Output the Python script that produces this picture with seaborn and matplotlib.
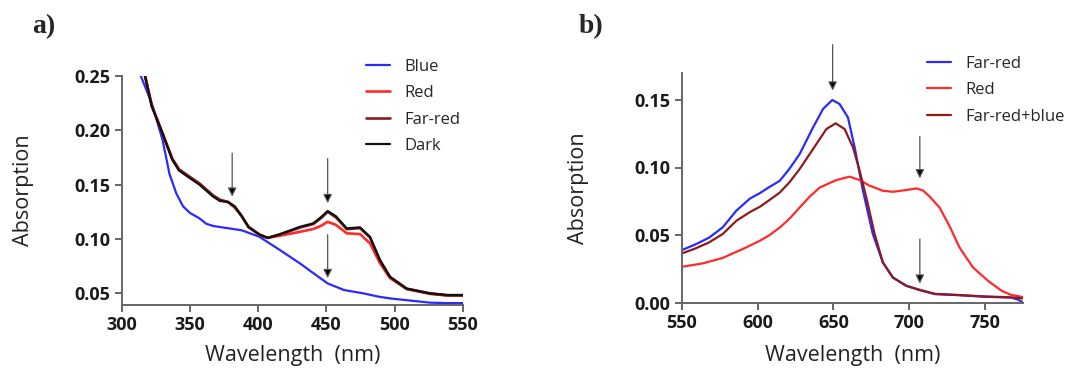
import numpy as np
import pandas as pd
import seaborn as sns
import matplotlib.pyplot as plt

# %% Data

# panel a) 300-550 nm
wl_a_blue = [314, 322, 330, 335, 340, 345, 350, 357, 362, 367, 372, 388, 401,
             416, 430.7, 440, 451, 463, 477, 488, 496.7, 514, 526, 538, 550]
abs_a_blue = [0.250, 0.225, 0.191, 0.160, 0.142, 0.130, 0.124, 0.119, 0.114,
              0.112, 0.111, 0.108, 0.102, 0.0898, 0.0775, 0.069, 0.0591,
              0.053, 0.050, 0.047, 0.0453, 0.043, 0.0414, 0.041, 0.041]

wl_a = [317, 322, 330, 337, 342, 350, 357, 367, 372, 378, 383, 388, 393, 401,
        407, 416, 430.7, 440.5, 446, 451, 457, 465, 474.7, 482, 489.4, 496.7,
        508.9, 526, 539, 550]
abs_a_dark = [0.250, 0.222, 0.197, 0.173, 0.163, 0.156, 0.150, 0.139, 0.135,
              0.134, 0.130, 0.121, 0.111, 0.104, 0.101, 0.1045, 0.1112,
              0.1144, 0.120, 0.1257, 0.121, 0.1098, 0.1107, 0.102, 0.0806,
              0.0652, 0.0545, 0.050, 0.0485, 0.0485]
abs_a_farred = [0.251, 0.223, 0.197, 0.174, 0.164, 0.157, 0.151, 0.140, 0.136,
                0.134, 0.129, 0.121, 0.111, 0.104, 0.101, 0.104, 0.1105,
                0.1138, 0.119, 0.125, 0.120, 0.109, 0.110, 0.1015, 0.080,
                0.065, 0.054, 0.0495, 0.048, 0.048]
abs_a_red = [0.251, 0.223, 0.197, 0.174, 0.164, 0.157, 0.151, 0.140, 0.136,
             0.134, 0.129, 0.121, 0.111, 0.104, 0.101, 0.103, 0.1066, 0.1092,
             0.112, 0.1158, 0.113, 0.1052, 0.1045, 0.096, 0.0776, 0.064,
             0.054, 0.050, 0.048, 0.048]

# panel b) 550-775 nm
wl_b_farred = [550, 559, 568, 577, 586, 595, 601.5, 607, 614.7, 621, 627.8,
               636.6, 643.2, 649.3, 654.1, 659.6, 664, 669.5, 676, 682.6,
               689.2, 698, 706.8, 717, 733, 750, 767, 772, 775]
abs_b_farred = [0.0388, 0.043, 0.048, 0.0556, 0.068, 0.077, 0.081, 0.085,
                0.0902, 0.099, 0.110, 0.1297, 0.1434, 0.150, 0.147, 0.137,
                0.115, 0.0828, 0.0507, 0.0297, 0.0185, 0.0124, 0.0092, 0.0062,
                0.0054, 0.0042, 0.0037, 0.002, 0.0]
wl_b_farred_blue = [550, 559, 568, 577, 586, 595, 601.5, 608, 614.7, 621,
                    627.8, 638.8, 645.4, 651.5, 657.4, 662.9, 667.3, 671.7,
                    677.2, 682.6, 689.2, 698, 706.8, 717, 733, 750, 767, 775]
abs_b_farred_blue = [0.0363, 0.040, 0.0445, 0.0507, 0.0605, 0.067, 0.0709,
                     0.076, 0.0815, 0.089, 0.0989, 0.1174, 0.1285, 0.1327,
                     0.1285, 0.115, 0.0976, 0.0778, 0.0507, 0.0297, 0.0185,
                     0.0124, 0.0094, 0.0064, 0.0055, 0.0045, 0.0038, 0.003]
wl_b_red = [550, 564, 577, 591, 601.5, 608, 614.7, 621, 627.8, 634, 641, 652,
            660.7, 667.3, 673.9, 682.6, 689.2, 698, 704.6, 709, 713, 720, 727,
            733, 742, 752, 761, 767, 775]
abs_b_red = [0.0264, 0.029, 0.033, 0.040, 0.0457, 0.050, 0.0556, 0.062,
             0.0704, 0.078, 0.0852, 0.0907, 0.0932, 0.0907, 0.0865, 0.0828,
             0.082, 0.0833, 0.0845, 0.083, 0.079, 0.0704, 0.0556, 0.041,
             0.026, 0.016, 0.0086, 0.0057, 0.004]

# arrows: (x, y_start, y_tip)
arrows_a = [(381, 0.179, 0.139), (451, 0.174, 0.133), (451, 0.104, 0.064)]
arrows_b = [(649.5, 0.191, 0.157), (707, 0.123, 0.092), (707, 0.047, 0.014)]

# %% Style

sns.set_style("ticks")
plt.rcParams['font.family'] = ['Open Sans', 'DejaVu Sans']

c_blue = "#2a2aff"
c_red = "#ff2a2a"
c_darkred = "#8e1b1b"
c_black = "#111111"

W, H = 1070, 368
fig = plt.figure(figsize=(10.7, 3.68), dpi=100)
ax_a = fig.add_axes([121.7 / W, (H - 304.5) / H, 341 / W, 228.5 / H])
ax_b = fig.add_axes([681.7 / W, (H - 302.5) / H, 341.3 / W, 229.5 / H])


def style_axis(ax):
    sns.despine(ax=ax)
    for s in ["left", "bottom"]:
        ax.spines[s].set_color("#666666")
        ax.spines[s].set_linewidth(1.4)
    ax.tick_params(axis="both", direction="out", length=5, width=1.4,
                   color="#666666", labelsize=13, labelcolor="#1a1a1a")
    for lab in ax.get_xticklabels() + ax.get_yticklabels():
        lab.set_fontweight("bold")
    ax.set_ylabel("Absorption", fontsize=15.5, color="#222222")
    ax.set_xlabel("Wavelength  (nm)", fontsize=15.5, color="#222222")


def draw_arrows(ax, arrows):
    for x, y0, y1 in arrows:
        ax.annotate("", xy=(x, y1), xytext=(x, y0),
                    arrowprops=dict(arrowstyle="-|>", ec="#555555",
                                    fc="black", lw=0.9, mutation_scale=13,
                                    shrinkA=0, shrinkB=0))


def add_legend(ax, x, y):
    ax.legend(loc="upper left", bbox_to_anchor=(x / W, 1 - y / H),
              bbox_transform=fig.transFigure, frameon=False, fontsize=12,
              borderpad=0, borderaxespad=0, handlelength=1.45,
              handletextpad=0.88, labelspacing=0.62)


# %% Panel a

sns.lineplot(x=wl_a_blue, y=abs_a_blue, ax=ax_a, color=c_blue, lw=1.6,
             label="Blue", sort=False, estimator=None)
sns.lineplot(x=wl_a, y=abs_a_red, ax=ax_a, color=c_red, lw=1.9,
             label="Red", sort=False, estimator=None)
sns.lineplot(x=wl_a, y=abs_a_farred, ax=ax_a, color=c_darkred, lw=1.9,
             label="Far-red", sort=False, estimator=None)
sns.lineplot(x=wl_a, y=abs_a_dark, ax=ax_a, color=c_black, lw=1.6,
             label="Dark", sort=False, estimator=None)
ax_a.set_xlim(300, 550)
ax_a.set_ylim(0.0397, 0.25)
ax_a.set_xticks([300, 350, 400, 450, 500, 550])
ax_a.set_yticks([0.05, 0.10, 0.15, 0.20, 0.25])
ax_a.yaxis.set_major_formatter(plt.FormatStrFormatter("%.2f"))
style_axis(ax_a)
ax_a.yaxis.set_label_coords(-0.257, 0.5)
ax_a.xaxis.set_label_coords(0.5, -0.177)
draw_arrows(ax_a, arrows_a)
add_legend(ax_a, 365.7, 59)
fig.text(32 / W, 1 - 27 / H, "a)", fontsize=20, fontweight="bold",
         family="Liberation Serif", va="center", ha="left")

# %% Panel b

sns.lineplot(x=wl_b_farred, y=abs_b_farred, ax=ax_b, color=c_blue, lw=1.6,
             label="Far-red", sort=False, estimator=None)
sns.lineplot(x=wl_b_red, y=abs_b_red, ax=ax_b, color=c_red, lw=1.6,
             label="Red", sort=False, estimator=None)
sns.lineplot(x=wl_b_farred_blue, y=abs_b_farred_blue, ax=ax_b,
             color=c_darkred, lw=1.6, label="Far-red+blue", sort=False,
             estimator=None)
ax_b.set_xlim(550, 775)
ax_b.set_ylim(0, 0.17)
ax_b.set_xticks([550, 600, 650, 700, 750])
ax_b.set_yticks([0.00, 0.05, 0.10, 0.15])
ax_b.yaxis.set_major_formatter(plt.FormatStrFormatter("%.2f"))
style_axis(ax_b)
ax_b.yaxis.set_label_coords(-0.272, 0.5)
ax_b.xaxis.set_label_coords(0.5, -0.185)
draw_arrows(ax_b, arrows_b)
add_legend(ax_b, 926.6, 56)
fig.text(579 / W, 1 - 27 / H, "b)", fontsize=20, fontweight="bold",
         family="Liberation Serif", va="center", ha="left")

for a in (ax_a, ax_b):
    for t in a.texts:
        t.set_clip_on(False)

plt.savefig("out.png", dpi=100)
